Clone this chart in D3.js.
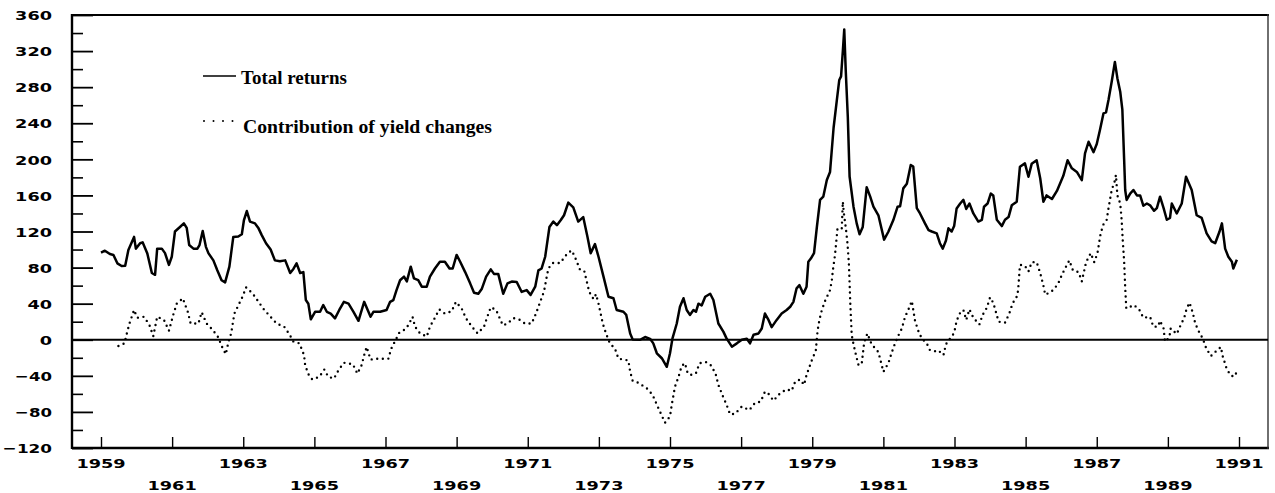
<!DOCTYPE html>
<html><head><meta charset="utf-8">
<script src="https://cdn.jsdelivr.net/npm/d3@7"></script>
<style>body{margin:0;background:#fff}svg{display:block}</style>
</head><body><svg id="c" width="1275" height="493"></svg>
<script>
const seriesNames = ["Total returns", "Contribution of yield changes"];
const totalReturns = [[1959.00,96.5],[1959.11,98.7],[1959.25,95],[1959.35,94],[1959.46,84.7],[1959.58,81.7],[1959.68,82],[1959.77,99.4],[1959.93,114],[1959.98,101],[1960.10,107],[1960.17,108],[1960.30,96],[1960.43,74],[1960.52,72],[1960.58,101],[1960.71,101],[1960.80,96],[1960.91,83],[1960.99,92],[1961.08,120],[1961.22,125],[1961.33,129],[1961.41,124],[1961.48,105],[1961.60,101],[1961.71,101],[1961.77,105],[1961.86,120.5],[1961.95,103],[1962.02,96],[1962.16,88],[1962.27,77],[1962.39,66],[1962.49,63.6],[1962.61,81],[1962.72,114],[1962.86,114.5],[1962.96,117],[1963.02,132.7],[1963.10,142.7],[1963.19,131],[1963.33,129],[1963.43,123.5],[1963.52,116],[1963.64,107],[1963.77,100],[1963.89,88],[1964.03,87],[1964.18,88],[1964.32,74],[1964.41,78.5],[1964.50,84.7],[1964.60,74],[1964.69,75],[1964.76,44],[1964.83,40],[1964.90,22.6],[1965.02,31],[1965.16,31],[1965.25,38.5],[1965.35,31],[1965.46,29],[1965.58,23.7],[1965.70,33],[1965.83,42],[1965.96,40],[1966.10,31],[1966.24,21],[1966.40,42],[1966.52,31],[1966.58,25.5],[1966.66,31],[1966.85,31],[1967.03,33],[1967.13,42],[1967.22,44],[1967.31,55],[1967.41,66],[1967.52,70],[1967.60,64.7],[1967.71,81],[1967.80,68],[1967.92,66],[1968.02,58.8],[1968.16,58.8],[1968.25,70],[1968.39,79],[1968.53,86.5],[1968.67,86.5],[1968.80,79],[1968.89,79],[1969.00,94],[1969.10,86.5],[1969.24,75],[1969.38,62.5],[1969.49,52],[1969.61,51],[1969.71,56.6],[1969.83,70],[1969.96,78],[1970.05,73],[1970.17,73],[1970.31,51],[1970.43,62.5],[1970.55,64.5],[1970.69,64],[1970.83,53],[1970.97,55],[1971.08,49.7],[1971.21,58.8],[1971.30,77],[1971.39,79],[1971.49,92],[1971.61,125],[1971.72,131],[1971.82,127],[1971.93,132.7],[1972.02,138],[1972.14,152],[1972.28,146.8],[1972.42,131],[1972.56,136],[1972.68,114],[1972.77,96],[1972.89,106],[1972.99,92],[1973.13,70],[1973.27,47.7],[1973.41,46],[1973.50,33],[1973.69,31],[1973.77,27.5],[1973.88,7],[1973.95,0.4],[1974.16,0],[1974.30,3],[1974.44,1],[1974.53,-4],[1974.63,-15],[1974.77,-20.5],[1974.91,-30],[1975.00,-15],[1975.07,1.5],[1975.19,18],[1975.28,36.6],[1975.38,46],[1975.47,33],[1975.56,27.5],[1975.66,33],[1975.73,31],[1975.80,40],[1975.89,38],[1975.99,47.7],[1976.13,51],[1976.22,44],[1976.36,18],[1976.50,9],[1976.59,1.5],[1976.74,-7.7],[1976.88,-4],[1977.02,0],[1977.16,1],[1977.25,-4],[1977.35,5.6],[1977.49,7],[1977.58,12.5],[1977.67,29],[1977.77,22],[1977.86,14],[1978.00,22],[1978.14,29],[1978.28,33],[1978.38,36.6],[1978.47,42],[1978.56,57],[1978.64,60.5],[1978.75,51],[1978.84,58.8],[1978.89,86.5],[1978.96,90],[1979.05,96],[1979.13,125],[1979.22,155],[1979.31,158.6],[1979.41,177],[1979.50,186],[1979.60,235],[1979.69,265],[1979.76,288],[1979.81,292],[1979.86,320],[1979.90,344],[1979.94,300],[1980.00,247],[1980.05,181],[1980.16,147.5],[1980.25,129],[1980.33,117],[1980.42,125],[1980.53,169],[1980.63,158.6],[1980.72,147.5],[1980.86,138],[1981.02,111],[1981.14,119.7],[1981.28,132.7],[1981.40,147.5],[1981.47,148],[1981.56,167.8],[1981.66,173],[1981.77,193.7],[1981.84,192],[1981.94,146],[1982.03,140],[1982.17,129],[1982.27,121.6],[1982.36,120],[1982.50,118],[1982.59,107],[1982.67,101],[1982.76,110],[1982.83,123.5],[1982.92,120],[1982.99,126],[1983.06,145.6],[1983.16,151],[1983.25,155],[1983.33,145],[1983.42,151],[1983.53,140],[1983.67,131],[1983.77,133],[1983.83,147.5],[1983.93,151],[1984.02,162],[1984.09,160],[1984.19,133],[1984.33,126],[1984.42,133],[1984.52,136],[1984.61,149],[1984.75,153],[1984.84,191.8],[1984.98,195.5],[1985.08,180.7],[1985.17,195],[1985.31,199],[1985.41,179],[1985.50,153],[1985.59,160],[1985.74,156],[1985.88,165],[1986.06,181.7],[1986.18,199],[1986.30,190],[1986.44,186],[1986.58,177],[1986.67,206.6],[1986.77,219.5],[1986.91,208],[1987.00,217],[1987.09,232.5],[1987.19,251],[1987.26,252],[1987.33,265.7],[1987.42,286],[1987.51,308],[1987.58,290],[1987.66,275],[1987.72,255],[1987.77,200],[1987.80,166],[1987.84,155],[1987.94,162],[1988.03,166],[1988.13,160],[1988.22,160],[1988.31,148.6],[1988.41,151],[1988.50,149],[1988.61,143],[1988.69,146],[1988.78,158.6],[1988.88,146],[1988.97,133],[1989.06,135],[1989.11,151],[1989.25,140],[1989.39,151],[1989.51,180.7],[1989.67,166],[1989.81,138],[1989.95,135],[1990.09,118],[1990.23,109],[1990.33,107],[1990.45,119.7],[1990.52,129],[1990.61,101],[1990.70,92],[1990.80,86.5],[1990.84,79],[1990.94,88.6]];
const yieldContribution = [[1959.49,-7],[1959.66,-4],[1959.72,6],[1959.80,18],[1959.93,33],[1960.02,24.4],[1960.21,25.5],[1960.36,16.5],[1960.47,4],[1960.58,25.5],[1960.77,22],[1960.91,10],[1961.03,27.5],[1961.13,40],[1961.30,46],[1961.44,31],[1961.52,18],[1961.74,18],[1961.83,30.6],[1961.97,18],[1962.14,11],[1962.30,2.6],[1962.38,-6],[1962.51,-16],[1962.58,-3],[1962.66,7],[1962.75,29],[1962.98,47.7],[1963.08,58],[1963.27,51],[1963.43,42],[1963.58,33.7],[1963.73,27],[1963.94,18],[1964.15,14.5],[1964.30,6],[1964.41,-2],[1964.58,-4],[1964.71,-17],[1964.74,-28],[1964.83,-38],[1964.94,-44],[1965.14,-41],[1965.28,-33],[1965.39,-41],[1965.55,-43],[1965.68,-33.6],[1965.83,-25.5],[1966.08,-27],[1966.21,-37.5],[1966.33,-28],[1966.40,-17],[1966.47,-8],[1966.58,-22],[1966.71,-21],[1966.94,-21],[1967.08,-21],[1967.16,-10],[1967.39,8],[1967.53,11],[1967.64,16],[1967.76,25.5],[1967.83,14.5],[1967.97,7],[1968.16,3.6],[1968.25,14.5],[1968.39,24.4],[1968.51,33.7],[1968.67,29],[1968.86,31.5],[1968.98,42],[1969.14,34.8],[1969.26,24],[1969.42,15],[1969.59,7],[1969.77,14.5],[1969.85,24],[1969.96,36],[1970.11,33],[1970.30,16],[1970.43,18],[1970.60,24],[1970.78,22],[1970.92,18],[1971.11,18],[1971.23,29],[1971.35,42],[1971.46,54],[1971.52,67],[1971.58,79],[1971.70,85],[1971.91,85],[1972.12,96],[1972.24,99],[1972.36,88.6],[1972.47,77.6],[1972.59,76],[1972.66,64.5],[1972.73,53],[1972.85,45],[1972.92,50.5],[1972.99,40],[1973.11,18],[1973.20,7],[1973.30,-3],[1973.46,-10.7],[1973.55,-21],[1973.71,-22],[1973.83,-23],[1973.88,-35.5],[1973.95,-45.5],[1974.11,-47.6],[1974.35,-54],[1974.51,-61],[1974.63,-72],[1974.74,-81.6],[1974.86,-92],[1975.00,-85],[1975.05,-72],[1975.14,-52],[1975.24,-41],[1975.33,-29],[1975.42,-26],[1975.50,-37.5],[1975.61,-39],[1975.73,-37],[1975.83,-26],[1976.01,-24.7],[1976.17,-29],[1976.29,-39],[1976.36,-50],[1976.48,-62],[1976.59,-72],[1976.69,-82.7],[1976.83,-82],[1977.02,-74],[1977.23,-78],[1977.39,-70],[1977.55,-68.5],[1977.67,-57.6],[1977.77,-60],[1977.91,-67.5],[1978.09,-59.5],[1978.28,-55],[1978.42,-56.6],[1978.52,-46.5],[1978.66,-44],[1978.77,-50],[1978.84,-39],[1978.99,-22.5],[1979.10,-12],[1979.15,10],[1979.20,21.8],[1979.27,33],[1979.36,43],[1979.50,55],[1979.55,65.6],[1979.58,77],[1979.64,94],[1979.71,123.5],[1979.83,123.5],[1979.86,153],[1979.89,140],[1979.95,122],[1979.99,107],[1980.03,84.7],[1980.05,62.5],[1980.07,40],[1980.11,5.2],[1980.16,-5],[1980.23,-17],[1980.30,-28],[1980.39,-27],[1980.46,-3],[1980.55,7],[1980.67,-5],[1980.86,-13.6],[1981.00,-35.5],[1981.14,-26],[1981.24,-13.6],[1981.33,-3.7],[1981.42,4.5],[1981.52,12.5],[1981.61,25.5],[1981.70,33],[1981.80,43],[1981.89,21],[1981.99,9],[1982.08,1.5],[1982.22,-4],[1982.31,-11.6],[1982.50,-13],[1982.55,-12],[1982.69,-17],[1982.76,-5],[1982.88,1.5],[1982.99,7.5],[1983.06,21],[1983.16,30],[1983.25,33],[1983.33,22],[1983.42,33.7],[1983.53,24.4],[1983.70,17],[1983.79,27.5],[1983.91,35.5],[1984.00,47],[1984.09,41],[1984.17,30],[1984.24,20],[1984.42,19],[1984.54,29],[1984.63,40],[1984.77,49],[1984.80,60.6],[1984.84,83],[1984.98,82],[1985.08,75.7],[1985.17,86],[1985.31,86],[1985.41,74],[1985.50,60],[1985.55,50],[1985.69,52.5],[1985.80,56],[1985.92,62.8],[1986.02,72],[1986.16,83],[1986.23,88],[1986.33,77],[1986.49,75],[1986.58,64.7],[1986.70,86],[1986.83,96],[1986.93,86],[1987.02,96],[1987.11,118],[1987.19,128],[1987.28,133],[1987.33,145.6],[1987.42,166],[1987.50,175],[1987.54,182.6],[1987.58,160],[1987.66,151],[1987.70,133],[1987.73,111],[1987.77,87],[1987.80,58],[1987.83,34.8],[1987.94,36.6],[1988.05,38.5],[1988.20,33],[1988.31,24.4],[1988.50,25.5],[1988.59,14.5],[1988.72,14.5],[1988.78,21],[1988.88,12.5],[1988.92,-2],[1989.04,2.6],[1989.08,12.5],[1989.25,6.4],[1989.34,14.5],[1989.46,24.4],[1989.53,34.8],[1989.61,41],[1989.70,30],[1989.77,18],[1989.89,7.5],[1989.98,1.5],[1990.08,-9.6],[1990.21,-18],[1990.33,-13.6],[1990.49,-8],[1990.54,-18],[1990.64,-30.5],[1990.75,-39],[1990.86,-41],[1990.92,-37]];
const yMajorTicks = [-120,-80,-40,0,40,80,120,160,200,240,280,320,360];
const yMinorTicks = [-100,-60,-20,20,60,100,140,180,220,260,300,340];
const xTickYears = [1959,1961,1963,1965,1967,1969,1971,1973,1975,1977,1979,1981,1983,1985,1987,1989,1991];

const svg = d3.select("#c");
const frame = {left:72, right:1268, top:15, bottom:448};
const x = d3.scaleLinear().domain([1959, 1991]).range([101, 1239]);
const y = d3.scaleLinear().domain([-120, 360]).range([frame.bottom, frame.top]);

const labelFont = "'DejaVu Sans', Arial, sans-serif";
function stretch(sel){
  sel.each(function(){
    const t = this.textContent;
    const digits = t.replace("-","").length;
    const w = digits*12.3 + (t.startsWith("-") ? 8 : 0);
    d3.select(this).attr("textLength", w).attr("lengthAdjust","spacingAndGlyphs");
  });
}

// Y axis minor ticks
const gyMinor = svg.append("g").attr("transform", `translate(${frame.left},0)`)
  .call(d3.axisLeft(y).tickValues(yMinorTicks).tickSize(-11).tickFormat(""));
gyMinor.select(".domain").remove();
gyMinor.selectAll("line").attr("stroke","#000").attr("stroke-width",1.6);

// Y axis major ticks with labels
const gy = svg.append("g").attr("transform", `translate(${frame.left},0)`)
  .call(d3.axisLeft(y).tickValues(yMajorTicks).tickSize(-21).tickPadding(20).tickFormat(d3.format("d")));
gy.select(".domain").remove();
gy.selectAll("line").attr("stroke","#000").attr("stroke-width",1.8);
gy.selectAll("text").attr("font-family",labelFont).attr("font-weight","bold")
  .attr("font-size",13).attr("fill","#000").attr("dy","0.36em").call(stretch);

// X axis ticks
const gx = svg.append("g").attr("transform", `translate(0,${frame.bottom})`)
  .call(d3.axisBottom(x).tickValues(xTickYears).tickSize(-11).tickFormat(""));
gx.select(".domain").remove();
gx.selectAll("line").attr("stroke","#000").attr("stroke-width",1.4);

svg.append("g").selectAll("text").data(xTickYears).join("text")
  .attr("x", d => x(d))
  .attr("y", (d,i) => i % 2 === 0 ? 467.5 : 489.5)
  .attr("text-anchor","middle")
  .attr("font-family",labelFont).attr("font-weight","bold").attr("font-size",13)
  .attr("fill","#000")
  .text(d => d).call(stretch);

// Frame
const fr = svg.append("g").attr("fill","none").attr("stroke","#000");
fr.append("line").attr("x1",frame.left).attr("x2",frame.right+1).attr("y1",frame.top).attr("y2",frame.top).attr("stroke-width",2.2);
fr.append("line").attr("x1",frame.left).attr("x2",frame.right+1).attr("y1",frame.bottom).attr("y2",frame.bottom).attr("stroke-width",2.4);
fr.append("line").attr("x1",frame.left).attr("x2",frame.left).attr("y1",frame.top-1).attr("y2",frame.bottom+1).attr("stroke-width",2.4);
fr.append("line").attr("x1",frame.right).attr("x2",frame.right).attr("y1",frame.top-1).attr("y2",frame.bottom+1).attr("stroke-width",1.4).attr("stroke","#333");

// Zero line
svg.append("line").attr("x1",frame.left).attr("x2",frame.right)
  .attr("y1",y(0)).attr("y2",y(0)).attr("stroke","#000").attr("stroke-width",2);

const line = d3.line().x(d => x(d[0])).y(d => y(d[1]));

svg.append("path").datum(yieldContribution).attr("d", line)
  .attr("fill","none").attr("stroke","#000").attr("stroke-width",2.4)
  .attr("stroke-linecap","round").attr("stroke-dasharray","0,5.6");

svg.append("path").datum(totalReturns).attr("d", line)
  .attr("fill","none").attr("stroke","#000").attr("stroke-width",2.5)
  .attr("stroke-linejoin","round");

// Legend
const lg = svg.append("g");
lg.append("line").attr("x1",203).attr("x2",236).attr("y1",76).attr("y2",76)
  .attr("stroke","#000").attr("stroke-width",1.3);
lg.append("line").attr("x1",204).attr("x2",233).attr("y1",121).attr("y2",121)
  .attr("stroke","#000").attr("stroke-width",2).attr("stroke-linecap","round").attr("stroke-dasharray","0,9.5");
lg.append("text").attr("x",241).attr("y",83.5).text(seriesNames[0])
  .attr("font-family","'Liberation Serif', 'Times New Roman', serif").attr("font-size",18.5).attr("font-weight","bold")
  .attr("textLength",106).attr("lengthAdjust","spacingAndGlyphs");
lg.append("text").attr("x",243).attr("y",132.5).text(seriesNames[1])
  .attr("font-family","'Liberation Serif', 'Times New Roman', serif").attr("font-size",18.5).attr("font-weight","bold")
  .attr("textLength",249).attr("lengthAdjust","spacingAndGlyphs");
</script></body></html>
